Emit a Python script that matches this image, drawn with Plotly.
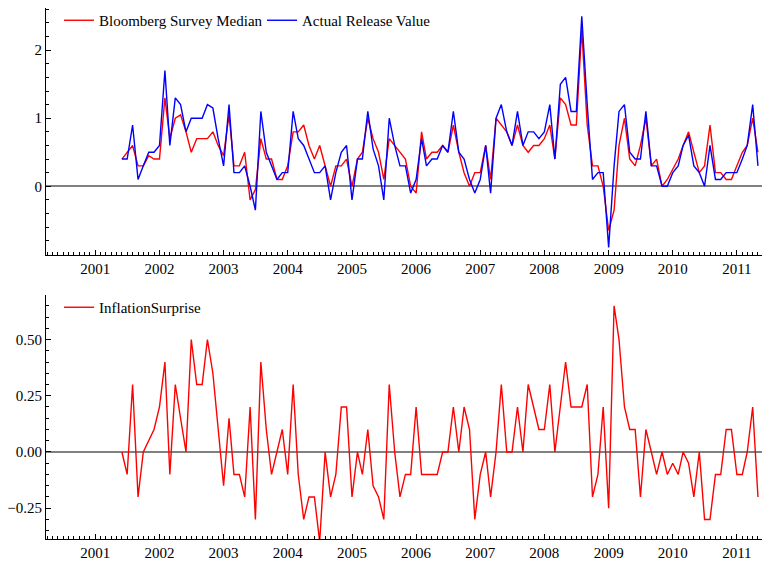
import pandas as pd
import plotly.graph_objects as go
from plotly.subplots import make_subplots

start_month = "2001-06-01"
n_months = 120

survey_median = [
    0.4, 0.5, 0.6, 0.3, 0.3, 0.45, 0.4, 0.4, 1.3, 0.7,
    1.0, 1.05, 0.8, 0.5, 0.7, 0.7, 0.7, 0.8, 0.6, 0.45,
    1.05, 0.3, 0.3, 0.5, -0.2, -0.05, 0.7, 0.4, 0.4, 0.1,
    0.1, 0.3, 0.8, 0.8, 0.9, 0.6, 0.4, 0.6, 0.3, 0.0,
    0.3, 0.3, 0.4, 0.0, 0.4, 0.5, 1.0, 0.7, 0.5, 0.1,
    0.7, 0.6, 0.5, 0.4, 0.0, -0.1, 0.8, 0.4, 0.5, 0.5,
    0.6, 0.5, 0.9, 0.5, 0.2, 0.0, 0.2, 0.2, 0.6, 0.1,
    1.0, 0.9, 0.8, 0.6, 0.9, 0.6, 0.5, 0.6, 0.6, 0.7,
    0.9, 0.4, 1.3, 1.2, 0.9, 0.9, 2.3, 0.9, 0.3, 0.3,
    0.0, -0.65, -0.35, 0.6, 1.0, 0.4, 0.3, 0.6, 1.0, 0.3,
    0.4, 0.0, 0.1, 0.25, 0.4, 0.6, 0.8, 0.5, 0.2, 0.3,
    0.9, 0.2, 0.2, 0.1, 0.1, 0.3, 0.5, 0.6, 1.0, 0.5,
]

actual_release = [
    0.4, 0.4, 0.9, 0.1, 0.3, 0.5, 0.5, 0.6, 1.7, 0.6,
    1.3, 1.2, 0.8, 1.0, 1.0, 1.0, 1.2, 1.15, 0.7, 0.3,
    1.2, 0.2, 0.2, 0.3, 0.0, -0.35, 1.1, 0.5, 0.3, 0.1,
    0.2, 0.2, 1.1, 0.7, 0.6, 0.4, 0.2, 0.2, 0.3, -0.2,
    0.2, 0.5, 0.6, -0.2, 0.4, 0.4, 1.1, 0.55, 0.3, -0.2,
    1.0, 0.6, 0.3, 0.3, -0.1, 0.1, 0.7, 0.3, 0.4, 0.4,
    0.6, 0.5, 1.1, 0.5, 0.4, 0.1, -0.1, 0.1, 0.6, -0.1,
    1.0, 1.2, 0.8, 0.6, 1.1, 0.6, 0.8, 0.8, 0.7, 0.8,
    1.2, 0.4, 1.5, 1.6, 1.1, 1.1, 2.5, 1.2, 0.1, 0.2,
    0.2, -0.9, 0.3, 1.1, 1.2, 0.5, 0.4, 0.4, 1.1, 0.3,
    0.3, 0.0, 0.0, 0.2, 0.3, 0.6, 0.75, 0.3, 0.2, 0.0,
    0.6, 0.1, 0.1, 0.2, 0.2, 0.2, 0.4, 0.6, 1.2, 0.3,
]

inflation_surprise = [
    0.0, -0.1, 0.3, -0.2, 0.0, 0.05, 0.1, 0.2, 0.4, -0.1,
    0.3, 0.15, 0.0, 0.5, 0.3, 0.3, 0.5, 0.35, 0.1, -0.15,
    0.15, -0.1, -0.1, -0.2, 0.2, -0.3, 0.4, 0.1, -0.1, 0.0,
    0.1, -0.1, 0.3, -0.1, -0.3, -0.2, -0.2, -0.4, 0.0, -0.2,
    -0.1, 0.2, 0.2, -0.2, 0.0, -0.1, 0.1, -0.15, -0.2, -0.3,
    0.3, 0.0, -0.2, -0.1, -0.1, 0.2, -0.1, -0.1, -0.1, -0.1,
    0.0, 0.0, 0.2, 0.0, 0.2, 0.1, -0.3, -0.1, 0.0, -0.2,
    0.0, 0.3, 0.0, 0.0, 0.2, 0.0, 0.3, 0.2, 0.1, 0.1,
    0.3, 0.0, 0.2, 0.4, 0.2, 0.2, 0.2, 0.3, -0.2, -0.1,
    0.2, -0.25, 0.65, 0.5, 0.2, 0.1, 0.1, -0.2, 0.1, 0.0,
    -0.1, 0.0, -0.1, -0.05, -0.1, 0.0, -0.05, -0.2, 0.0, -0.3,
    -0.3, -0.1, -0.1, 0.1, 0.1, -0.1, -0.1, 0.0, 0.2, -0.2,
]

top_ticks = [0, 1, 2]
bottom_ticks = [-0.25, 0.0, 0.25, 0.5]

dates = pd.date_range(start_month, periods=n_months, freq="MS")

FONT = "Liberation Serif"
W, H = 762, 562
plot_left, plot_right = 46, 762
top_y0, top_y1 = 8, 255
bot_y0, bot_y1 = 295, 539

fig = make_subplots(rows=2, cols=1, shared_xaxes=False)

fig.add_trace(go.Scatter(x=dates, y=survey_median, mode="lines",
                         name="Bloomberg Survey Median",
                         line=dict(color="#ff0000", width=1.4), legend="legend"), row=1, col=1)
fig.add_trace(go.Scatter(x=dates, y=actual_release, mode="lines",
                         name="Actual Release Value",
                         line=dict(color="#0000ff", width=1.4), legend="legend"), row=1, col=1)
fig.add_trace(go.Scatter(x=dates, y=inflation_surprise, mode="lines",
                         name="InflationSurprise",
                         line=dict(color="#ff0000", width=1.4), legend="legend2"), row=2, col=1)

ph = bot_y1 - top_y0
pw = plot_right - plot_left
top_dom = [(bot_y1 - top_y1) / ph, 1.0]
bot_dom = [0.0, (bot_y1 - bot_y0) / ph]

xcommon = dict(
    type="date",
    range=["2000-03-26", "2011-05-24"],
    tick0="2001-01-01", dtick="M12", tickformat="%Y",
    ticks="inside", ticklen=5, tickwidth=1, tickcolor="black",
    minor=dict(ticks="inside", dtick="M1", ticklen=3, tickwidth=1, tickcolor="black", showgrid=False),
    showline=True, linecolor="black", linewidth=1,
    showgrid=False, zeroline=False, automargin=False,
    tickfont=dict(family=FONT, size=15, color="black"),
)
fig.update_xaxes(**xcommon, row=1, col=1)
fig.update_xaxes(**xcommon, row=2, col=1)

fig.update_yaxes(
    domain=top_dom, range=[-1.01, 2.62], automargin=False,
    tickvals=top_ticks, ticks="inside", ticklen=5, tickcolor="black",
    minor=dict(ticks="inside", dtick=0.2, ticklen=3, tickcolor="black", showgrid=False),
    showline=True, linecolor="black", linewidth=1, showgrid=False,
    zeroline=True, zerolinecolor="#808080", zerolinewidth=1.5,
    tickfont=dict(family=FONT, size=15, color="black"),
    row=1, col=1,
)
fig.update_yaxes(
    domain=bot_dom, range=[-0.387, 0.698], automargin=False,
    tickvals=bottom_ticks, tickformat=".2f", ticks="inside", ticklen=5, tickcolor="black",
    minor=dict(ticks="inside", dtick=0.05, ticklen=3, tickcolor="black", showgrid=False),
    showline=True, linecolor="black", linewidth=1, showgrid=False,
    zeroline=True, zerolinecolor="#808080", zerolinewidth=1.5,
    tickfont=dict(family=FONT, size=15, color="black"),
    row=2, col=1,
)

leg_x = 13 / pw
fig.update_layout(
    width=W, height=H,
    margin=dict(l=plot_left, r=W - plot_right, t=top_y0, b=H - bot_y1),
    paper_bgcolor="white", plot_bgcolor="white",
    font=dict(family=FONT, size=15, color="black"),
    showlegend=True,
    legend=dict(x=leg_x, y=1.0 + 4 / ph, xanchor="left", yanchor="top", orientation="h",
                bgcolor="rgba(0,0,0,0)", itemwidth=30, entrywidth=158, entrywidthmode="pixels",
                font=dict(family=FONT, size=15, color="black")),
    legend2=dict(x=leg_x, y=bot_dom[1] + 4 / ph, xanchor="left", yanchor="top", orientation="h",
                 bgcolor="rgba(0,0,0,0)", itemwidth=30,
                 font=dict(family=FONT, size=15, color="black")),
)

fig.write_html("out.html",
               config={"displayModeBar": False},
               post_script="document.body.style.margin='0';document.body.style.padding='0';")
